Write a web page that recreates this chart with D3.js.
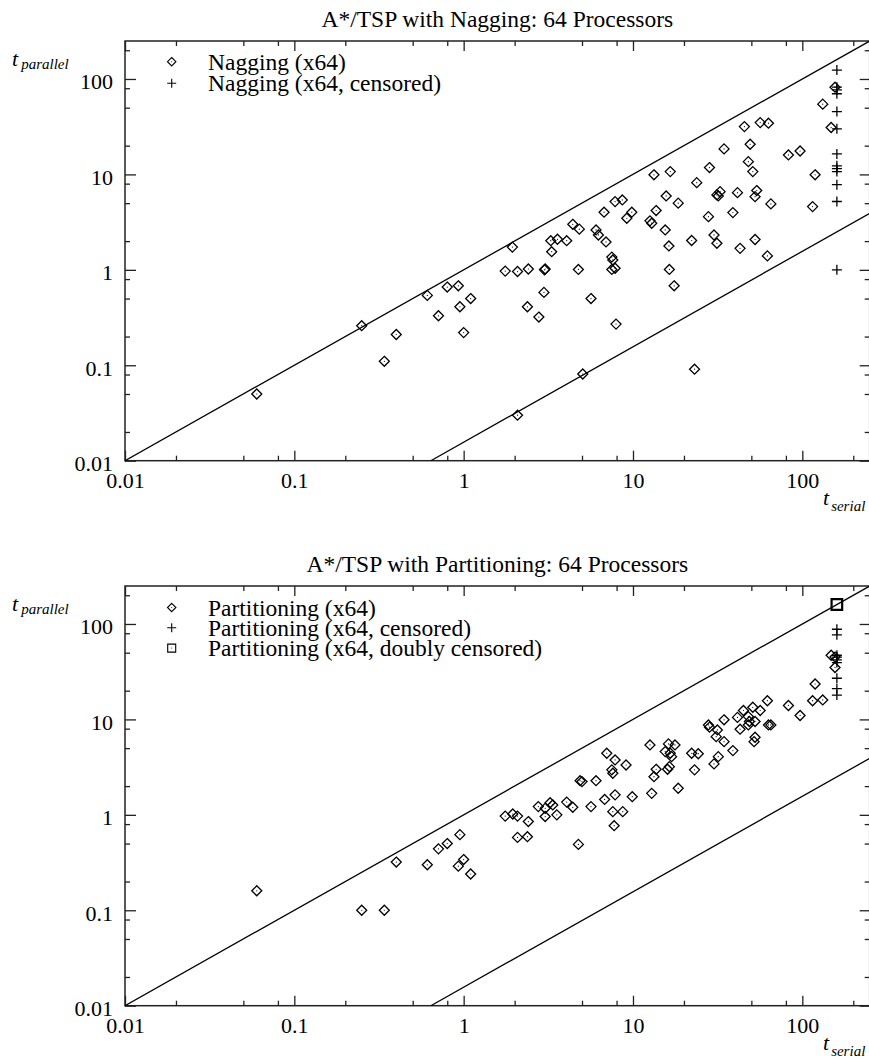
<!DOCTYPE html>
<html lang="en">
<head>
  <meta charset="UTF-8">
  <title>A*/TSP speedup scatter</title>
  <script src="https://d3js.org/d3.v7.min.js"></script>
  <style>
    body { margin: 0; background: #fff; }
    text { font-family: "Liberation Serif", "Times New Roman", serif; fill: #000; }
  </style>
</head>
<body>
  <script>
    // axis ticks
    const majorTicks = [0.01, 0.1, 1, 10, 100];
    const tickLabels = ["0.01", "0.1", "1", "10", "100"];
    const minorMult = [2, 5, 8];
    const processors = 64;
    const cutoff = 160;

    // Nagging panel
    const nagSerial = [0.06, 0.25, 0.34, 0.40, 0.61, 0.71, 0.80, 0.93, 0.95, 1.0, 1.1,
      1.94, 1.76, 2.08, 2.41, 3.03, 3.0, 2.98, 2.38, 2.78, 3.31, 3.27, 3.58, 4.06,
      4.76, 4.41, 4.82, 5.65, 5.05, 2.08, 6.05, 6.25, 6.93, 6.75, 7.84, 8.65, 9.84,
      9.19, 7.5, 7.6, 7.5, 7.84, 7.94, 13.3, 16.6, 13.7, 12.6, 12.9, 15.5, 15.7,
      18.5, 16.3, 16.4, 17.5, 23.8, 22.2, 23.1, 28.3, 27.9, 31.3, 32.7, 31.9, 31.3,
      30.1, 34.5, 41.4, 38.9, 42.9, 45.5, 49.2, 48, 51, 53.8, 52.6, 52.6, 56.4,
      63.1, 65.2, 62.2, 82.8, 97, 119, 115, 132, 148, 156];
    const nagParallel = [0.05, 0.26, 0.11, 0.21, 0.54, 0.33, 0.66, 0.68, 0.41, 0.22, 0.50,
      1.73, 0.97, 0.96, 1.02, 1.02, 1.0, 0.58, 0.41, 0.32, 1.55, 2.02, 2.09, 2.02,
      1.01, 3.0, 2.67, 0.50, 0.081, 0.030, 2.62, 2.32, 1.96, 4.02, 5.19, 5.4, 4.02,
      3.47, 1.36, 1.27, 1.01, 1.04, 0.27, 9.9, 10.7, 4.18, 3.26, 3.08, 2.62, 5.95,
      5.0, 1.78, 1.01, 0.68, 8.2, 2.03, 0.091, 11.8, 3.61, 6.1, 6.6, 5.95, 1.9,
      2.32, 18.5, 6.44, 3.98, 1.68, 31.7, 20.7, 13.6, 10.7, 6.77, 5.85, 2.08, 34.9,
      34.4, 4.91, 1.40, 16, 17.6, 9.9, 4.6, 54.5, 31, 82];
    const nagCensored = [124, 82, 77, 70, 45.5, 30, 16.4, 12.3, 11.5, 10.7, 7.8, 5.2, 1.0];

    // Partitioning panel
    const partSerial = [0.06, 0.25, 0.34, 0.40, 0.61, 0.71, 0.80, 0.95, 0.93, 1.0, 1.1,
      1.76, 1.95, 2.08, 2.41, 2.08, 2.38, 2.76, 3.03, 3.24, 3.36, 3.03, 3.55, 4.06,
      4.41, 4.76, 5.65, 6.8, 7.84, 7.6, 8.7, 7.74, 9.9, 12.9, 18.5, 4.87, 5.0, 6.05,
      7.0, 7.84, 9.1, 7.5, 7.6, 12.6, 16.2, 17.7, 15.5, 16.6, 16.9, 13.7, 13.3, 16.0,
      16.4, 22.2, 24.3, 23.1, 27.9, 28.3, 31.5, 31, 34.5, 34.5, 38.9, 31.9, 30.1,
      41.4, 44.9, 48, 48.7, 52.6, 42.9, 48, 51, 56.4, 62.2, 63.1, 65.2, 52.6, 51.9,
      82.8, 97, 115, 132, 119, 148, 156, 156];
    const partParallel = [0.16, 0.10, 0.10, 0.32, 0.30, 0.44, 0.50, 0.62, 0.29, 0.34, 0.24,
      0.97, 1.02, 0.97, 0.85, 0.58, 0.59, 1.22, 1.17, 1.34, 1.27, 0.96, 1.0, 1.36,
      1.2, 0.49, 1.22, 1.45, 1.62, 1.08, 1.08, 0.77, 1.55, 1.68, 1.9, 2.28, 2.23, 2.28,
      4.42, 3.76, 3.33, 2.96, 2.73, 5.4, 5.54, 5.4, 4.6, 4.42, 4.07, 3.0, 2.51, 3.0,
      3.2, 4.42, 4.37, 2.96, 8.75, 8.3, 7.76, 6.6, 9.9, 5.85, 4.71, 4.07, 3.42,
      10.5, 12.4, 10.7, 9.5, 9.5, 7.9, 8.75, 13.4, 12.4, 15.7, 8.75, 8.75, 6.5, 5.85,
      14.0, 11.0, 15.7, 16.0, 23.5, 47, 45, 35];
    const partCensored = [88, 77, 47, 45, 42, 39.4, 27, 21, 18];
    const partDoubly = [160];

    const width = 869, height = 1061;
    const left = 125, right = 869.7, plotTop = 41, plotBottom = 460.7;
    const panelShift = 545;

    const svg = d3.select("body").append("svg")
      .attr("width", width)
      .attr("height", height);

    const x = d3.scaleLog().domain([0.01, 250]).range([left, right]);

    const diamond = r => `M0,${-r}L${r},0L0,${r}L${-r},0Z`;
    const plus = r => `M${-r},0H${r}M0,${-r}V${r}`;
    const square = r => `M${-r},${-r}H${r}V${r}H${-r}Z`;

    function minorValues() {
      const out = [];
      majorTicks.forEach(m => minorMult.forEach(k => { if (m * k <= 250) out.push(m * k); }));
      return out;
    }

    function drawPanel(cfg) {
      const g = svg.append("g").attr("transform", `translate(0,${cfg.offset})`);
      const y = d3.scaleLog().domain([0.01, 250]).range([plotBottom, plotTop]);

      const clipId = "clip" + cfg.offset;
      g.append("clipPath").attr("id", clipId)
        .append("rect")
        .attr("x", left).attr("y", plotTop)
        .attr("width", right - left).attr("height", plotBottom - plotTop);

      // title
      g.append("text")
        .attr("x", (left + right) / 2)
        .attr("y", 27)
        .attr("text-anchor", "middle")
        .style("font-size", "23.5px")
        .text(cfg.title);

      // frame
      g.append("rect")
        .attr("x", left).attr("y", plotTop)
        .attr("width", right - left).attr("height", plotBottom - plotTop)
        .attr("fill", "none")
        .attr("stroke", "#222")
        .attr("stroke-width", 1.5);

      const fmt = d => tickLabels[majorTicks.indexOf(d)];
      const styleAxis = a => {
        a.select(".domain").remove();
        a.selectAll(".tick line").attr("stroke", "#222").attr("stroke-width", 1.3);
        a.selectAll("text").style("font-size", "22px").style("font-family", "Liberation Serif, serif").attr("fill", "#000");
      };

      // bottom
      g.append("g").attr("transform", `translate(0,${plotBottom})`)
        .call(d3.axisBottom(x).tickValues(majorTicks).tickFormat(fmt).tickSize(-10).tickPadding(12))
        .call(styleAxis);
      g.append("g").attr("transform", `translate(0,${plotBottom})`)
        .call(d3.axisBottom(x).tickValues(minorValues()).tickFormat("").tickSize(-5))
        .call(styleAxis);
      // top
      g.append("g").attr("transform", `translate(0,${plotTop})`)
        .call(d3.axisTop(x).tickValues(majorTicks).tickFormat("").tickSize(-10))
        .call(styleAxis);
      g.append("g").attr("transform", `translate(0,${plotTop})`)
        .call(d3.axisTop(x).tickValues(minorValues()).tickFormat("").tickSize(-5))
        .call(styleAxis);
      // left
      const la = g.append("g").attr("transform", `translate(${left},0)`)
        .call(d3.axisLeft(y).tickValues(majorTicks).tickFormat(fmt).tickSize(-11).tickPadding(12))
        .call(styleAxis);
      la.selectAll("text").attr("dy", "0.45em");
      g.append("g").attr("transform", `translate(${left},0)`)
        .call(d3.axisLeft(y).tickValues(minorValues()).tickFormat("").tickSize(-5))
        .call(styleAxis);
      // right
      g.append("g").attr("transform", `translate(${right},0)`)
        .call(d3.axisRight(y).tickValues(majorTicks).tickFormat("").tickSize(-10))
        .call(styleAxis);
      g.append("g").attr("transform", `translate(${right},0)`)
        .call(d3.axisRight(y).tickValues(minorValues()).tickFormat("").tickSize(-5))
        .call(styleAxis);

      // reference lines t_par = t_ser and t_par = t_ser / 64
      const plot = g.append("g").attr("clip-path", `url(#${clipId})`);
      const line = d3.line().x(d => x(d[0])).y(d => y(d[1]));
      plot.append("path")
        .attr("d", line([[0.01, 0.01], [250, 250]]))
        .attr("fill", "none").attr("stroke", "#000").attr("stroke-width", 1.3);
      plot.append("path")
        .attr("d", line([[0.01 * processors, 0.01], [250, 250 / processors]]))
        .attr("fill", "none").attr("stroke", "#000").attr("stroke-width", 1.3);

      // points
      const pts = cfg.serial.map((s, i) => [s, cfg.parallel[i]]);
      const dg = plot.append("g");
      dg.selectAll("path").data(pts).join("path")
        .attr("transform", d => `translate(${x(d[0])},${y(d[1])})`)
        .attr("d", diamond(5))
        .attr("fill", "none").attr("stroke", "#000").attr("stroke-width", 1.3);
      dg.selectAll("circle").data(pts).join("circle")
        .attr("cx", d => x(d[0])).attr("cy", d => y(d[1]))
        .attr("r", 0.6).attr("fill", "#000");

      plot.append("g").selectAll("path").data(cfg.censored).join("path")
        .attr("transform", d => `translate(${x(cutoff)},${y(d)})`)
        .attr("d", plus(5))
        .attr("fill", "none").attr("stroke", "#000").attr("stroke-width", 1.3);

      if (cfg.doubly) {
        const sg = plot.append("g");
        sg.selectAll("path").data(cfg.doubly).join("path")
          .attr("transform", d => `translate(${x(cutoff)},${y(d)})`)
          .attr("d", square(5.3))
          .attr("fill", "none").attr("stroke", "#000").attr("stroke-width", 2.2);
      }

      // legend
      const lg = g.append("g");
      cfg.legend.forEach((item, i) => {
        const ly = cfg.legendTop + i * cfg.legendStep;
        const sym = lg.append("g").attr("transform", `translate(171.7,${ly})`);
        sym.append("path")
          .attr("d", item.shape === "diamond" ? diamond(4.2) : item.shape === "plus" ? plus(4.5) : square(4))
          .attr("fill", "none").attr("stroke", "#000").attr("stroke-width", 1.1);
        if (item.shape !== "plus") sym.append("circle").attr("r", 0.5).attr("fill", "#000");
        lg.append("text")
          .attr("x", 208)
          .attr("y", ly + 8)
          .style("font-size", "23.5px")
          .text(item.label);
      });

      // axis labels
      const yl = g.append("text").attr("x", 12).attr("y", 66).style("font-size", "22px");
      yl.append("tspan").style("font-style", "italic").text("t");
      yl.append("tspan").attr("dx", 3).attr("dy", 3).style("font-style", "italic").style("font-size", "15px").text("parallel");
      const xl = g.append("text").attr("x", 823).attr("y", 505).style("font-size", "22px");
      xl.append("tspan").style("font-style", "italic").text("t");
      xl.append("tspan").attr("dx", 2).attr("dy", 6).style("font-style", "italic").style("font-size", "15px").text("serial");
    }

    drawPanel({
      offset: 0,
      title: "A*/TSP with Nagging: 64 Processors",
      serial: nagSerial, parallel: nagParallel, censored: nagCensored,
      legendTop: 61.7, legendStep: 21.6,
      legend: [
        { shape: "diamond", label: "Nagging (x64)" },
        { shape: "plus", label: "Nagging (x64, censored)" }
      ]
    });

    drawPanel({
      offset: panelShift,
      title: "A*/TSP with Partitioning: 64 Processors",
      serial: partSerial, parallel: partParallel, censored: partCensored, doubly: partDoubly,
      legendTop: 62.5, legendStep: 20.3,
      legend: [
        { shape: "diamond", label: "Partitioning (x64)" },
        { shape: "plus", label: "Partitioning (x64, censored)" },
        { shape: "square", label: "Partitioning (x64, doubly censored)" }
      ]
    });
  </script>
</body>
</html>
